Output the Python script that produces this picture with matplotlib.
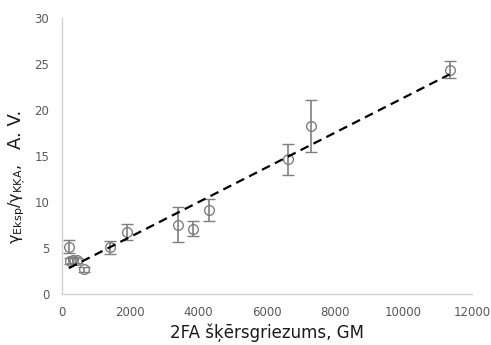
import matplotlib
matplotlib.use("Agg")
import matplotlib.pyplot as plt
import numpy as np

plt.rcParams["font.family"] = ["DejaVu Sans"]

# data
fa_cross = [205, 250, 340, 430, 653, 1414, 1893, 3385, 3834, 4312, 6624, 7298, 11347]
ratio = [5.14, 3.6, 3.7, 3.65, 2.68, 5.07, 6.7, 7.5, 7.1, 9.13, 14.64, 18.26, 24.35]
ratio_err = [0.7, 0.3, 0.3, 0.3, 0.3, 0.68, 0.85, 1.9, 0.8, 1.2, 1.7, 2.8, 0.92]

# linear trendline
slope = 0.00189
intercept = 2.42

gray = "#7f7f7f"

fig = plt.figure(figsize=(4.91, 3.45), dpi=100)
ax = fig.add_axes([0.126, 0.148, 0.835, 0.8])

ax.errorbar(fa_cross, ratio, yerr=ratio_err, fmt="o", mfc="none", mec=gray,
            ms=7, mew=1, ecolor=gray, elinewidth=1.2, capsize=4, capthick=1.2, zorder=2)

xs = np.array([min(fa_cross), max(fa_cross)])
ax.plot(xs, slope * xs + intercept, color="black", linestyle=(0, (4, 2.5)), linewidth=1.6, zorder=3)

ax.set_xlim(0, 12000)
ax.set_ylim(0, 30)
ax.set_xticks(range(0, 12001, 2000))
ax.set_yticks(range(0, 31, 5))
ax.tick_params(length=0, labelsize=8.5, colors="#595959", pad=9)

for s in ["top", "right"]:
    ax.spines[s].set_visible(False)
for s in ["left", "bottom"]:
    ax.spines[s].set_color("#d0d0d0")
    ax.spines[s].set_linewidth(1)

ax.set_xlabel("2FA šķērsgriezums, GM", fontsize=12, color="#1a1a1a", labelpad=3)

# y label in two sizes: small gamma ratio, larger units
fig.text(0.036, 0.41, r"γ$_{\mathrm{Eksp}}$/γ$_{\mathrm{KĶA}}$,", rotation=90,
         ha="center", va="center", fontsize=11.5, color="#1a1a1a")
fig.text(0.032, 0.625, "A. V.", rotation=90, ha="center", va="center",
         fontsize=13, color="#1a1a1a")

fig.savefig("out.png", dpi=100)
